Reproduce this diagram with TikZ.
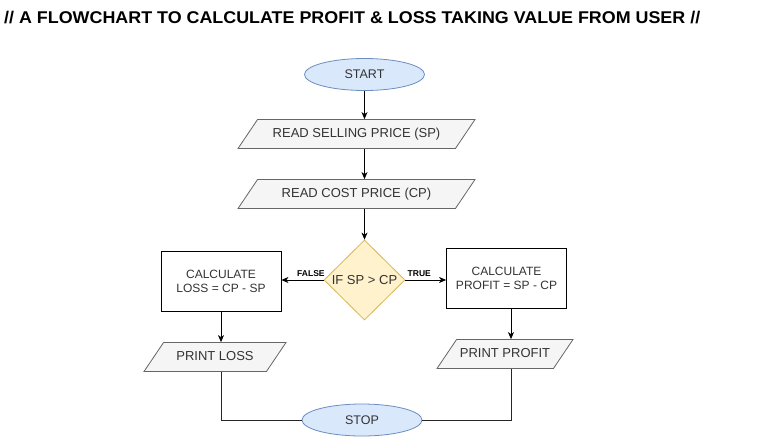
\documentclass[tikz,border=0pt]{standalone}
\usepackage{fontspec}
\usepackage{graphicx}
\setmainfont{Liberation Sans}
\usetikzlibrary{shapes.geometric,arrows.meta}
\definecolor{iofill}{HTML}{F5F5F5}
\definecolor{iodraw}{HTML}{666666}
\definecolor{txt}{HTML}{333333}
\definecolor{termfill}{HTML}{DAE8FC}
\definecolor{termdraw}{HTML}{6C8EBF}
\definecolor{decfill}{HTML}{FFF2CC}
\definecolor{decdraw}{HTML}{D6B656}
\begin{document}
\begin{tikzpicture}[x=1pt,y=-1pt,
  term/.style={ellipse, draw=termdraw, fill=termfill, line width=0.8pt, minimum width=120pt, minimum height=32pt, inner sep=0pt, text=txt, font=\fontsize{12.5}{14}\selectfont},
  io/.style={trapezium, trapezium left angle=56, trapezium right angle=124, trapezium stretches body, draw=iodraw, fill=iofill, line width=0.8pt, text height=9pt, text depth=2.5pt, inner ysep=8.75pt, inner xsep=0pt, text=txt, font=\fontsize{13}{15}\selectfont},
  procbox/.style={rectangle, draw=black, line width=0.8pt, minimum width=120pt, minimum height=60pt, align=center, inner sep=0pt, text=txt, font=\fontsize{12}{14}\selectfont},
  dec/.style={diamond, draw=decdraw, fill=decfill, line width=0.8pt, minimum width=81pt, minimum height=80pt, inner sep=0pt, text=txt, font=\fontsize{13}{15}\selectfont},
  arr/.style={-{Stealth[length=7pt,width=6pt,inset=2pt]}, line width=0.8pt, draw=black},
  plain/.style={line width=0.8pt, draw=black!85},
  lbl/.style={font=\bfseries\fontsize{8.5}{9}\selectfont, inner sep=0pt, text=black}
]
\useasboundingbox[fill=white] (0,0) rectangle (771,437);

\node[anchor=base west, inner sep=0pt] (title) at (4,23)
  {\resizebox{696pt}{\height}{\bfseries\fontsize{17}{17}\selectfont // A FLOWCHART TO CALCULATE PROFIT \& LOSS TAKING VALUE FROM USER //}};

\node[term] (start) at (364.5,74.5) {START};
\node[io, minimum width=237pt] (r1) at (356.5,134) {READ SELLING PRICE (SP)};
\node[io, minimum width=237pt] (r2) at (356.5,194) {READ COST PRICE (CP)};
\node[dec] (dia) at (364.5,280) {IF SP > CP};
\node[procbox] (loss) at (221,281.5) {CALCULATE\\LOSS = CP - SP};
\node[procbox] (profit) at (506.5,278.3) {CALCULATE\\PROFIT = SP - CP};
\node[io, minimum width=142pt] (pl) at (215,357) {PRINT LOSS};
\node[io, minimum width=136pt] (pp) at (505,354) {PRINT PROFIT};
\node[term] (stop) at (362,420) {STOP};

\draw[arr] (start.south) -- (start.south |- r1.north);
\draw[arr] (start.south |- r1.south) -- (start.south |- r2.north);
\draw[arr] (start.south |- r2.south) -- (dia.north);
\draw[arr] (dia.west) -- (dia.west -| loss.east) node[lbl, pos=0.3, above=3pt] {FALSE};
\draw[arr] (dia.east) -- (dia.east -| profit.west) node[lbl, pos=0.34, above=3pt] {TRUE};
\draw[arr] (loss.south) -- (loss.south |- pl.north);
\draw[arr] ([xshift=4.5pt]profit.south) -- ([xshift=4.5pt]profit.south |- pp.north);
\draw[plain] (loss.south |- pl.south) |- (stop.west);
\draw[plain] ([xshift=4.5pt]profit.south |- pp.south) |- (stop.east);
\end{tikzpicture}
\end{document}
